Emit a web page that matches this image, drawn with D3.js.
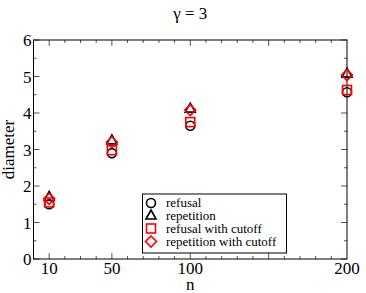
<!DOCTYPE html>
<html>
<head>
<meta charset="utf-8">
<script src="https://cdn.jsdelivr.net/npm/d3@7"></script>
<style>
  body { margin: 0; background: #fff; }
  text { font-family: "Liberation Serif", "DejaVu Serif", serif; }
</style>
</head>
<body>
<div id="chart"></div>
<script>
// --- DATA ---
const nValues = [10, 50, 100, 200];
const refusal = [1.5, 2.9, 3.65, 4.57];
const repetition = [1.7, 3.25, 4.12, 5.08];
const refusalCutoff = [1.55, 2.98, 3.75, 4.63];
const repetitionCutoff = [1.65, 3.2, 4.08, 5.04];
const xTickLabels = [10, 50, 100, 200];
const yTickLabels = [0, 1, 2, 3, 4, 5, 6];

const series = [
    { name: "refusal", values: refusal, color: "#000", shape: "circle" },
    { name: "repetition", values: repetition, color: "#000", shape: "triangle" },
    { name: "refusal with cutoff", values: refusalCutoff, color: "#ff0000", shape: "square" },
    { name: "repetition with cutoff", values: repetitionCutoff, color: "#ff0000", shape: "diamond" }
];

// --- SETUP ---
const width = 366, height = 293;
const margin = { top: 40, right: 19, bottom: 34, left: 33.5 };

const svg = d3.select("#chart").append("svg")
    .attr("width", width)
    .attr("height", height);

const x = d3.scaleLinear().domain([0, 200]).range([margin.left, width - margin.right]);
const y = d3.scaleLinear().domain([0, 6]).range([height - margin.bottom, margin.top]);

const x0 = x.range()[0], x1 = x.range()[1];
const y0 = y.range()[0], y1 = y.range()[1];

// title
svg.append("text")
    .attr("x", (x0 + x1) / 2)
    .attr("y", 19)
    .attr("text-anchor", "middle")
    .style("font-size", "17px")
    .text("γ = 3");

// ticks (inward, mirrored on top and right)
const tickColor = "#555";
const xMinor = d3.range(10, 200, 10);
const yMinor = d3.range(0.5, 6, 1);
const axes = svg.append("g").attr("stroke", tickColor).attr("stroke-width", 1);

xMinor.forEach(v => {
    const major = xTickLabels.includes(v) || v % 50 === 0;
    const len = major ? 6 : 3;
    axes.append("line").attr("x1", x(v)).attr("x2", x(v)).attr("y1", y0).attr("y2", y0 - len);
    axes.append("line").attr("x1", x(v)).attr("x2", x(v)).attr("y1", y1).attr("y2", y1 + len);
});
yTickLabels.concat(yMinor).forEach(v => {
    const len = Number.isInteger(v) ? 6 : 3;
    axes.append("line").attr("x1", x0).attr("x2", x0 + len).attr("y1", y(v)).attr("y2", y(v));
    axes.append("line").attr("x1", x1).attr("x2", x1 - len).attr("y1", y(v)).attr("y2", y(v));
});

// frame
svg.append("rect")
    .attr("x", x0).attr("y", y1)
    .attr("width", x1 - x0).attr("height", y0 - y1)
    .attr("fill", "none").attr("stroke", "#000").attr("stroke-width", 1);

// tick labels
svg.append("g").selectAll("text")
    .data(xTickLabels)
    .enter().append("text")
    .attr("x", d => x(d))
    .attr("y", y0 + 15)
    .attr("text-anchor", "middle")
    .style("font-size", "17px")
    .text(d => d);

svg.append("g").selectAll("text")
    .data(yTickLabels)
    .enter().append("text")
    .attr("x", x0 - 2)
    .attr("y", d => y(d) + 6)
    .attr("text-anchor", "end")
    .style("font-size", "17px")
    .text(d => d);

// axis titles
svg.append("text")
    .attr("x", (x0 + x1) / 2)
    .attr("y", 290)
    .attr("text-anchor", "middle")
    .style("font-size", "17px")
    .text("n");

svg.append("text")
    .attr("transform", `translate(14,${(y0 + y1) / 2}) rotate(-90)`)
    .attr("text-anchor", "middle")
    .style("font-size", "17px")
    .text("diameter");

// --- MARKERS ---
function marker(g, shape, color) {
    if (shape === "circle") {
        g.append("circle").attr("r", 4.5);
    } else if (shape === "triangle") {
        g.append("path").attr("d", "M0,-5.5L5,3.5L-5,3.5Z");
    } else if (shape === "square") {
        g.append("rect").attr("x", -4.5).attr("y", -4.5).attr("width", 9).attr("height", 9);
    } else {
        g.append("path").attr("d", "M0,-5.5L5.5,0L0,5.5L-5.5,0Z");
    }
    g.selectAll("*")
        .attr("fill", "none")
        .attr("stroke", color)
        .attr("stroke-width", 1.6);
}

series.forEach(s => {
    s.values.forEach((v, i) => {
        const g = svg.append("g").attr("transform", `translate(${x(nValues[i])},${y(v)})`);
        marker(g, s.shape, s.color);
    });
});

// --- LEGEND ---
const legend = svg.append("g");
legend.append("rect")
    .attr("x", 142.5).attr("y", 194)
    .attr("width", 144).attr("height", 59)
    .attr("fill", "#fff").attr("stroke", "#000").attr("stroke-width", 1);

const rowY = [203, 215.5, 228.5, 241.5];
series.forEach((s, i) => {
    const g = legend.append("g").attr("transform", `translate(151,${rowY[i]})`);
    marker(g, s.shape, s.color);
    legend.append("text")
        .attr("x", 166)
        .attr("y", rowY[i] + 4)
        .style("font-size", "13px")
        .text(s.name);
});
</script>
</body>
</html>
